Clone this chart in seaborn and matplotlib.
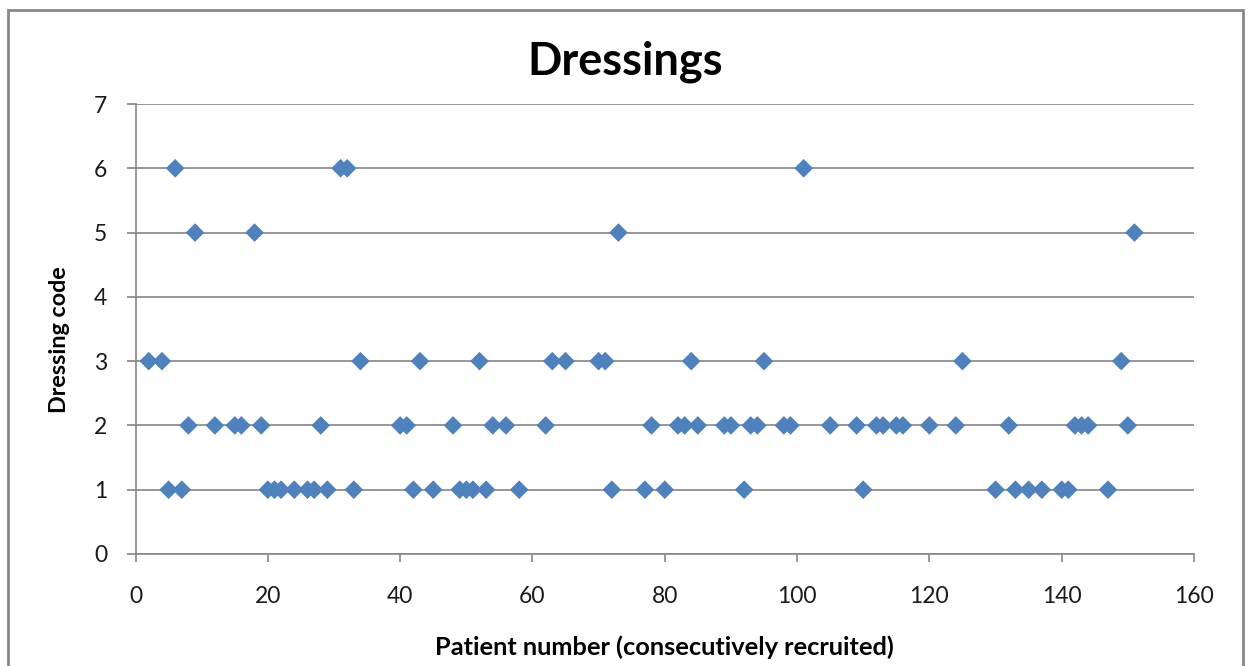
import matplotlib
matplotlib.use("Agg")
import matplotlib.pyplot as plt
import seaborn as sns
import pandas as pd
from matplotlib.patches import Rectangle

# Patient numbers per dressing code
code1_patients = [5, 7, 20, 21, 22, 24, 26, 27, 29, 33, 42, 45, 49, 50, 51, 53, 58,
                  72, 77, 80, 92, 110, 130, 133, 135, 137, 140, 141, 147]
code2_patients = [8, 12, 15, 16, 19, 28, 40, 41, 48, 54, 56, 62, 78, 82, 83, 85, 89,
                  90, 93, 94, 98, 99, 105, 109, 112, 113, 115, 116, 120, 124, 132,
                  142, 143, 144, 150]
code3_patients = [2, 4, 34, 43, 52, 63, 65, 70, 71, 84, 95, 125, 149]
code5_patients = [9, 18, 73, 151]
code6_patients = [6, 31, 32, 101]

x_ticks = [0, 20, 40, 60, 80, 100, 120, 140, 160]
y_ticks = [0, 1, 2, 3, 4, 5, 6, 7]

title = "Dressings"
x_label = "Patient number (consecutively recruited)"
y_label = "Dressing code"

rows = []
for code, pts in [(1, code1_patients), (2, code2_patients), (3, code3_patients),
                  (5, code5_patients), (6, code6_patients)]:
    for p in pts:
        rows.append({"patient": p, "code": code})
df = pd.DataFrame(rows)

sns.set_theme(style="white")
plt.rcParams['font.family'] = ['Lato', 'DejaVu Sans']

W, H = 1250, 666
fig = plt.figure(figsize=(W / 100, H / 100), dpi=100)
ax = fig.add_axes([135.5 / W, 1 - 554 / H, (1194 - 135.5) / W, (554 - 104) / H])

sns.scatterplot(data=df, x="patient", y="code", marker="D", color="#4F81BD",
                s=90, edgecolor="none", linewidth=0, ax=ax, zorder=3, legend=False)

ax.set_xlim(0, 160)
ax.set_ylim(0, 7)
ax.set_xticks(x_ticks)
ax.set_yticks(y_ticks)
ax.set_xticklabels([str(v) for v in x_ticks])
ax.set_yticklabels([str(v) for v in y_ticks])

gray = "#868686"
ax.yaxis.grid(True, color=gray, linewidth=1.2, zorder=0)
ax.xaxis.grid(False)
ax.set_axisbelow(True)
for s in ["top", "right"]:
    ax.spines[s].set_visible(False)
for s in ["left", "bottom"]:
    ax.spines[s].set_color(gray)
    ax.spines[s].set_linewidth(1.2)

ax.tick_params(axis="x", direction="out", length=6, width=1.2, color=gray,
               pad=17, labelsize=16.5, labelcolor="#1a1a1a", bottom=True)
ax.tick_params(axis="y", direction="out", length=6.5, width=1.2, color=gray,
               pad=14, labelsize=16.5, labelcolor="#1a1a1a", left=True)

ax.set_xlabel(x_label, fontsize=18.3, fontweight="bold", color="black")
ax.xaxis.set_label_coords(0.5, (554 - 647) / (554 - 104))
ax.xaxis.label.set_va("center")
ax.set_ylabel(y_label, fontsize=16.8, fontweight="bold", color="black")
ax.yaxis.set_label_coords((60 - 135.5) / (1194 - 135.5), (554 - 340) / (554 - 104))
ax.yaxis.label.set_va("center")

fig.text(625 / W, 1 - 62 / H, title, ha="center", va="center",
         fontsize=32.5, fontweight="bold", color="black")

# outer chart-area border
fig.patches.append(Rectangle((8 / W, -0.05), (1243 - 8) / W, 1.05 - 10 / H,
                             transform=fig.transFigure, fill=False,
                             edgecolor="#888888", linewidth=2))

fig.savefig("out.png", dpi=100, facecolor="white")
